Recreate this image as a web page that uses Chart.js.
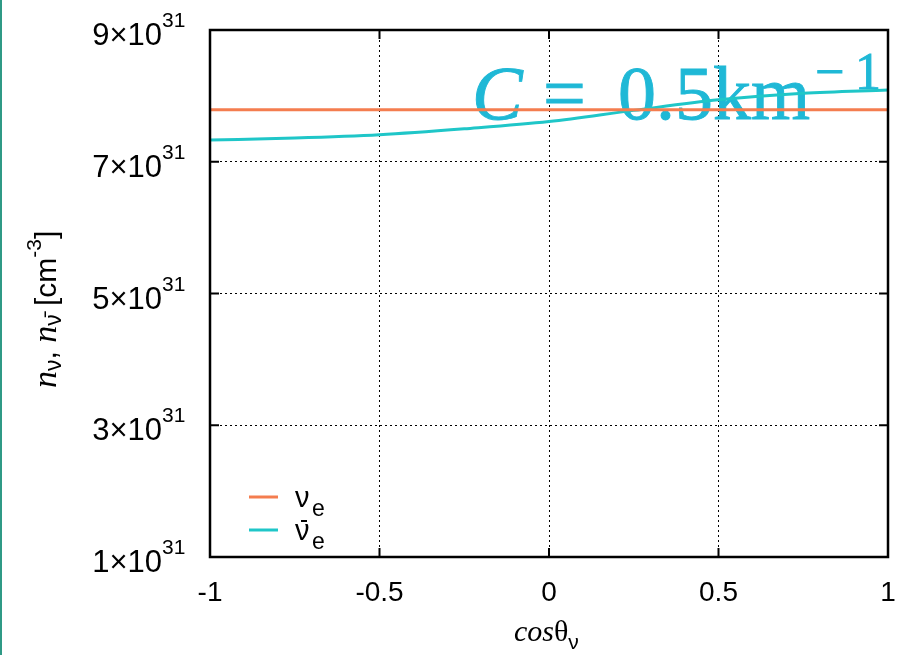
<!DOCTYPE html>
<html lang="en">
<head>
<meta charset="UTF-8">
<title>n_nu vs cos theta</title>
<script src="https://cdn.jsdelivr.net/npm/chart.js@4.4.1/dist/chart.umd.min.js"></script>
<style>
    html, body { margin: 0; padding: 0; background: #fff; }
    .wrap { position: relative; width: 901px; height: 655px; }
    .edge { position: absolute; left: 0; top: 0; width: 2px; height: 655px; background: #2f9a86; }
</style>
</head>
<body>
<div class="wrap">
    <canvas id="myChart" width="901" height="655"></canvas>
    <div class="edge"></div>
</div>
<script>
    // values, densities in units of 10^31 cm^-3
    let cosTheta = [-1, -0.75, -0.5, -0.25, 0, 0.25, 0.5, 0.75, 1];
    let nuE      = [7.79, 7.79, 7.79, 7.79, 7.79, 7.79, 7.79, 7.79, 7.79];
    let nuEbar   = [7.33, 7.36, 7.41, 7.50, 7.61, 7.78, 7.94, 8.04, 8.09];
    let xTicks = [-1, -0.5, 0, 0.5, 1];
    let yTicks = [1, 3, 5, 7, 9];
    let yExp = '31';
    let labels = ['\u03bd', '\u03bd\u0304'];
    let colors = ['#f47d4f', '#1fc6c8'];

    // frame, inward ticks, y labels, legend, axis titles, annotation
    const decor = {
        id: 'decor',
        beforeDatasetsDraw(chart) {
            const ctx = chart.ctx, a = chart.chartArea;
            const base = a.top + 89;
            ctx.save();
            ctx.fillStyle = ctx.strokeStyle = '#1fb8d6';
            ctx.lineWidth = 0.9;
            ctx.textBaseline = 'alphabetic';
            // thicken the serif a bit, the original is a heavier math font
            const txt = (s, x, y) => { ctx.fillText(s, x, y); ctx.strokeText(s, x, y); };
            ctx.font = 'italic 76px "Liberation Serif"';
            txt('C', a.left + 262, base);
            ctx.font = '76px "Liberation Serif"';
            txt('=', a.left + 333, base);
            txt('0.5km', a.left + 408, base);
            ctx.font = '52px "Liberation Serif"';
            txt('\u2212', a.left + 605, base - 30);
            txt('1', a.left + 645, base - 30);
            ctx.restore();
        },
        afterDraw(chart) {
            const ctx = chart.ctx, a = chart.chartArea;
            const xs = chart.scales.x, ys = chart.scales.y;
            ctx.save();
            ctx.strokeStyle = '#000';
            ctx.lineWidth = 2.5;
            ctx.strokeRect(a.left, a.top, a.right - a.left, a.bottom - a.top);
            ctx.lineWidth = 2;
            ctx.beginPath();
            xTicks.forEach(v => {
                const px = xs.getPixelForValue(v);
                ctx.moveTo(px, a.bottom); ctx.lineTo(px, a.bottom - 9);
                ctx.moveTo(px, a.top); ctx.lineTo(px, a.top + 9);
            });
            yTicks.forEach(v => {
                const py = ys.getPixelForValue(v);
                ctx.moveTo(a.left, py); ctx.lineTo(a.left + 9, py);
                ctx.moveTo(a.right, py); ctx.lineTo(a.right - 9, py);
            });
            ctx.stroke();

            // y tick labels with a real superscript
            ctx.fillStyle = '#000';
            ctx.textBaseline = 'alphabetic';
            yTicks.forEach(v => {
                const py = ys.getPixelForValue(v);
                ctx.textAlign = 'right';
                ctx.font = '31px "Liberation Sans"';
                ctx.fillText(v + '\u00d710', a.left - 48, py + 15);
                ctx.textAlign = 'left';
                ctx.font = '21px "Liberation Sans"';
                ctx.fillText(yExp, a.left - 48, py - 3);
            });

            // legend
            chart.data.datasets.forEach((ds, i) => {
                const y = a.bottom - 60 + i * 33;
                ctx.strokeStyle = ds.borderColor;
                ctx.lineWidth = 3;
                ctx.beginPath();
                ctx.moveTo(a.left + 39, y); ctx.lineTo(a.left + 68, y);
                ctx.stroke();
                ctx.fillStyle = '#000';
                ctx.font = '29px "Liberation Sans"';
                ctx.fillText('\u03bd', a.left + 85, y + 10);
                if (i === 1) {
                    ctx.fillRect(a.left + 91, y - 10, 6, 2);
                }
                ctx.font = '23px "Liberation Sans"';
                ctx.fillText('e', a.left + 102, y + 19);
            });

            // x title
            ctx.fillStyle = '#000';
            let x0 = (a.left + a.right) / 2 - 35;
            ctx.font = 'italic 30px "Liberation Serif"';
            ctx.fillText('cos', x0, 641);
            x0 += ctx.measureText('cos').width;
            ctx.font = '30px "Liberation Serif"';
            ctx.fillText('\u03b8', x0, 641);
            x0 += ctx.measureText('\u03b8').width;
            ctx.font = '21px "Liberation Sans"';
            ctx.fillText('\u03bd', x0, 649);

            // y title, rotated, reads bottom to top
            ctx.translate(56, 388);
            ctx.rotate(-Math.PI / 2);
            let t = 0;
            const part = (txt, font, dy) => {
                ctx.font = font;
                ctx.fillText(txt, t, dy);
                t += ctx.measureText(txt).width;
            };
            part('n', 'italic 34px "Liberation Serif"', 0);
            part('\u03bd', '23px "Liberation Sans"', 5);
            part(', ', '30px "Liberation Sans"', 0);
            part('n', 'italic 34px "Liberation Serif"', 0);
            part('\u03bd\u0304', '23px "Liberation Sans"', 5);
            part(' [cm', '30px "Liberation Sans"', 0);
            part('-3', '21px "Liberation Sans"', -15);
            part(']', '30px "Liberation Sans"', 0);
            ctx.restore();
        }
    };

    let ctx = document.getElementById('myChart').getContext('2d');
    let lineChart = new Chart(ctx, {
        type: 'line',
        data: {
            datasets: [{
                label: labels[0],
                data: cosTheta.map((c, i) => ({ x: c, y: nuE[i] })),
                borderColor: colors[0],
                borderWidth: 3,
                pointRadius: 0,
                tension: 0
            }, {
                label: labels[1],
                data: cosTheta.map((c, i) => ({ x: c, y: nuEbar[i] })),
                borderColor: colors[1],
                borderWidth: 3,
                pointRadius: 0,
                cubicInterpolationMode: 'monotone'
            }]
        },
        options: {
            responsive: false,
            animation: false,
            layout: { padding: { left: 0, right: 13, top: 30, bottom: 0 } },
            plugins: { legend: { display: false }, tooltip: { enabled: false } },
            scales: {
                x: {
                    type: 'linear',
                    min: -1, max: 1,
                    afterBuildTicks: s => { s.ticks = xTicks.map(v => ({ value: v })); },
                    afterFit: s => { s.height = 98; s.paddingLeft = 0; s.paddingRight = 0; },
                    border: { display: false, dash: [2, 3] },
                    grid: { color: '#000', lineWidth: 1, drawTicks: false },
                    ticks: { color: '#000', font: { family: 'Liberation Sans', size: 28 }, padding: 19, maxRotation: 0,
                        callback: v => String(v) }
                },
                y: {
                    min: 1, max: 9,
                    afterBuildTicks: s => { s.ticks = yTicks.map(v => ({ value: v })); },
                    afterFit: s => { s.width = 210; s.paddingTop = 0; s.paddingBottom = 0; },
                    border: { display: false, dash: [2, 3] },
                    grid: { color: '#000', lineWidth: 1, drawTicks: false },
                    ticks: { display: false }
                }
            }
        },
        plugins: [decor]
    });
</script>
</body>
</html>
